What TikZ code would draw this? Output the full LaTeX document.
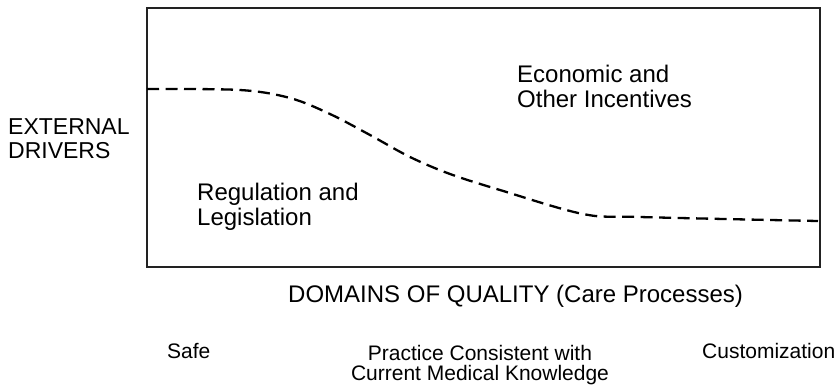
\documentclass[tikz,border=0pt]{standalone}
\usepackage{fontspec}
\setmainfont{Liberation Sans}
\usepackage{xcolor}
\definecolor{FrameGray}{HTML}{222222}
\usetikzlibrary{positioning}

\begin{document}
\begin{tikzpicture}[x=1pt, y=-1pt,
  every node/.style={inner sep=0pt, align=left, anchor=north west},
  biglbl/.style={font=\fontsize{24}{24.5}\selectfont},
  smalllbl/.style={font=\fontsize{21}{20.5}\selectfont}]
  \useasboundingbox (0,0) rectangle (839,386);
  % frame and boundary between the two drivers
  \draw[FrameGray, line width=1.4pt] (147,8) rectangle (820,267);
  \draw[line width=2.3pt, dash pattern=on 12pt off 6.5pt]
    plot[smooth, tension=.55] coordinates {(147,89) (240,90) (290,98) (330,114) (370,135)
      (410,157) (450,174) (500,190) (583,214) (640,217) (818,221)};
  % labels
  \node[font=\fontsize{23}{24}\selectfont] (ext) at (8,118) {EXTERNAL\\DRIVERS};
  \node[biglbl] (reg) at (197,183) {Regulation and\\Legislation};
  \node[biglbl] (eco) at (517,65) {Economic and\\Other Incentives};
  \node[biglbl] (dom) at (288,285) {DOMAINS OF QUALITY (Care Processes)};
  \node[smalllbl] (safe) at (167,343) {Safe};
  \node[smalllbl, align=center, anchor=north] (cons) at (480,345) {Practice Consistent with\\Current Medical Knowledge};
  \node[smalllbl] (cust) at (702,343) {Customization};
\end{tikzpicture}
\end{document}
